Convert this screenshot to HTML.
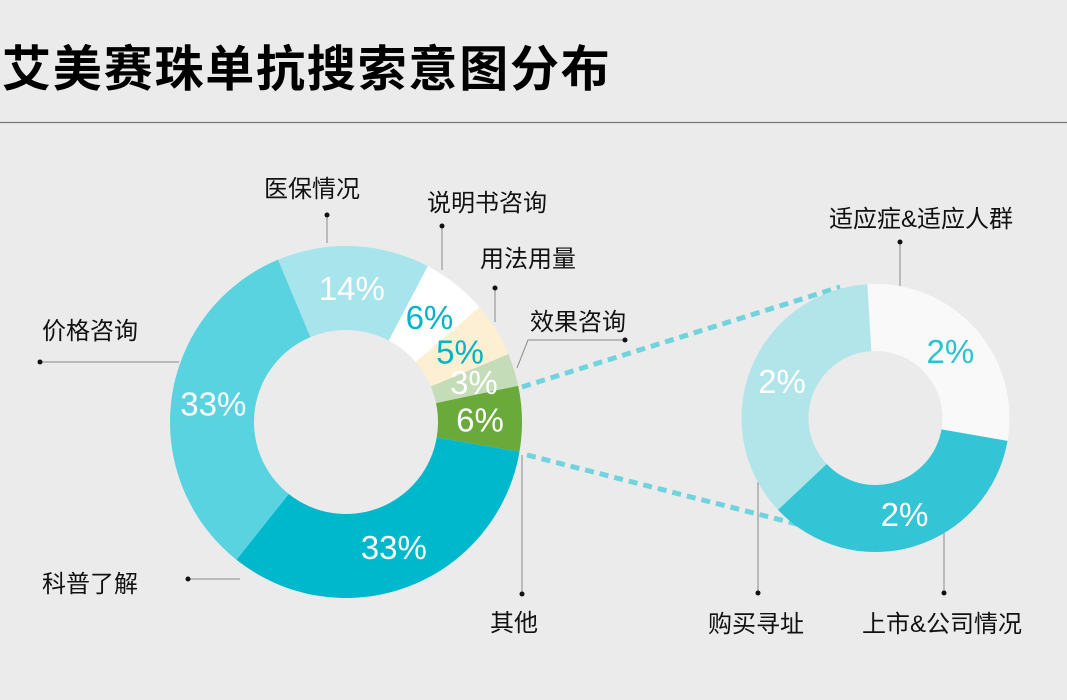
<!DOCTYPE html>
<html><head><meta charset="utf-8">
<style>
body{margin:0;background:#ebebeb;}
svg{display:block;font-family:"Liberation Sans","Noto Sans CJK SC",sans-serif;}
</style></head>
<body>
<svg id="chart" width="1067" height="700" viewBox="0 0 1067 700">
<rect width="1067" height="700" fill="#ebebeb"/>
<text x="2" y="86" font-size="49" font-weight="bold" letter-spacing="1.8" fill="#000">艾美赛珠单抗搜索意图分布</text>
<line x1="0" y1="122.5" x2="1067" y2="122.5" stroke="#777" stroke-width="1.2"/>
<g id="leaders" stroke="#888" stroke-width="1" fill="none">
<polyline points="327,215 327,243"/>
<polyline points="442,226 442,270"/>
<polyline points="495,288 495,322"/>
<polyline points="40,362 179,362"/>
<polyline points="625,340 528,340 517,368"/>
<polyline points="188,579 240,579"/>
<polyline points="522,594 522,455"/>
<polyline points="758,593 758,482"/>
<polyline points="944,593 944,533"/>
<polyline points="900,242 900,286"/>
</g>
<g fill="#111">
<circle cx="327" cy="215" r="2.5"/><circle cx="442" cy="226" r="2.5"/><circle cx="495" cy="288" r="2.5"/>
<circle cx="40" cy="362" r="2.5"/><circle cx="625" cy="340" r="2.5"/><circle cx="188" cy="579" r="2.5"/>
<circle cx="522" cy="594" r="2.5"/><circle cx="758" cy="593" r="2.5"/><circle cx="944" cy="593" r="2.5"/>
<circle cx="900" cy="242" r="2.5"/>
</g>
<g font-size="24" fill="#111">
<text x="264" y="197">医保情况</text>
<text x="427" y="211">说明书咨询</text>
<text x="480" y="267">用法用量</text>
<text x="42" y="339">价格咨询</text>
<text x="530" y="330">效果咨询</text>
<text x="42" y="592">科普了解</text>
<text x="490" y="631">其他</text>
<text x="708" y="632">购买寻址</text>
<text x="862" y="632">上市&amp;公司情况</text>
<text x="829" y="227">适应症&amp;适应人群</text>
</g>
<line x1="522" y1="387" x2="840" y2="287" stroke="#5bcfdc" stroke-width="5" stroke-dasharray="9 6" opacity="0.85"/>
<line x1="527" y1="455" x2="820" y2="530" stroke="#5bcfdc" stroke-width="5" stroke-dasharray="9 6" opacity="0.85"/>
<g id="left"></g>
<g id="right"></g>
</svg>
<script>
const leftCats = ["其他","科普了解","价格咨询","医保情况","说明书咨询","用法用量","效果咨询"];
const leftValues = [6, 33, 33, 14, 6, 5, 3];
const leftLabels = ["6%","33%","33%","14%","6%","5%","3%"];
const leftColors = ["#6aaa3a","#00b8cc","#5ad3e0","#a8e4ec","#ffffff","#fdf0d2","#c5dcb9"];
const leftText = ["#fff","#fff","#fff","#fff","#00b4c8","#00b4c8","#fff"];
const rightCats = ["购买寻址","适应症&适应人群","上市&公司情况"];
const rightValues = [2.2, 1.75, 2.15];
const rightLabels = ["2%","2%","2%"];
const rightColors = ["#b2e5ea","#f9f9f9","#33c5d5"];
const rightText = ["#fff","#2fc1d3","#fff"];
const NS="http://www.w3.org/2000/svg";
function pt(cx,cy,r,a){const t=a*Math.PI/180;return [cx+r*Math.sin(t),cy-r*Math.cos(t)];}
function donut(g,cx,cy,R,r,start,vals,labels,cols,tcols,cats,fs,key){
  const tot=vals.reduce((a,b)=>a+b,0);let a=start;
  vals.forEach((v,i)=>{
    const span=v/tot*360,a2=a+span,lg=span>180?1:0;
    const p1=pt(cx,cy,R,a),p2=pt(cx,cy,R,a2),p3=pt(cx,cy,r,a2),p4=pt(cx,cy,r,a);
    const p=document.createElementNS(NS,"path");
    p.setAttribute("d",`M${p1}A${R},${R} 0 ${lg} 1 ${p2}L${p3}A${r},${r} 0 ${lg} 0 ${p4}Z`);
    p.setAttribute("fill",cols[i]);
    
    
    g.appendChild(p);
    const m=pt(cx,cy,(R+r)/2,a+span/2);
    const t=document.createElementNS(NS,"text");
    t.setAttribute("x",m[0]);t.setAttribute("y",m[1]+fs*0.36);
    t.setAttribute("text-anchor","middle");t.setAttribute("font-size",fs);
    t.setAttribute("fill",tcols[i]);t.textContent=labels[i];
    
    
    g.appendChild(t);
    a=a2;
  });
}
donut(document.getElementById("left"),346,422,176,92,78.1,leftValues,leftLabels,leftColors,leftText,leftCats,33,'main');
donut(document.getElementById("right"),875.5,418,134,67,226.7,rightValues,rightLabels,rightColors,rightText,rightCats,33,'detail');
</script>
</body></html>
